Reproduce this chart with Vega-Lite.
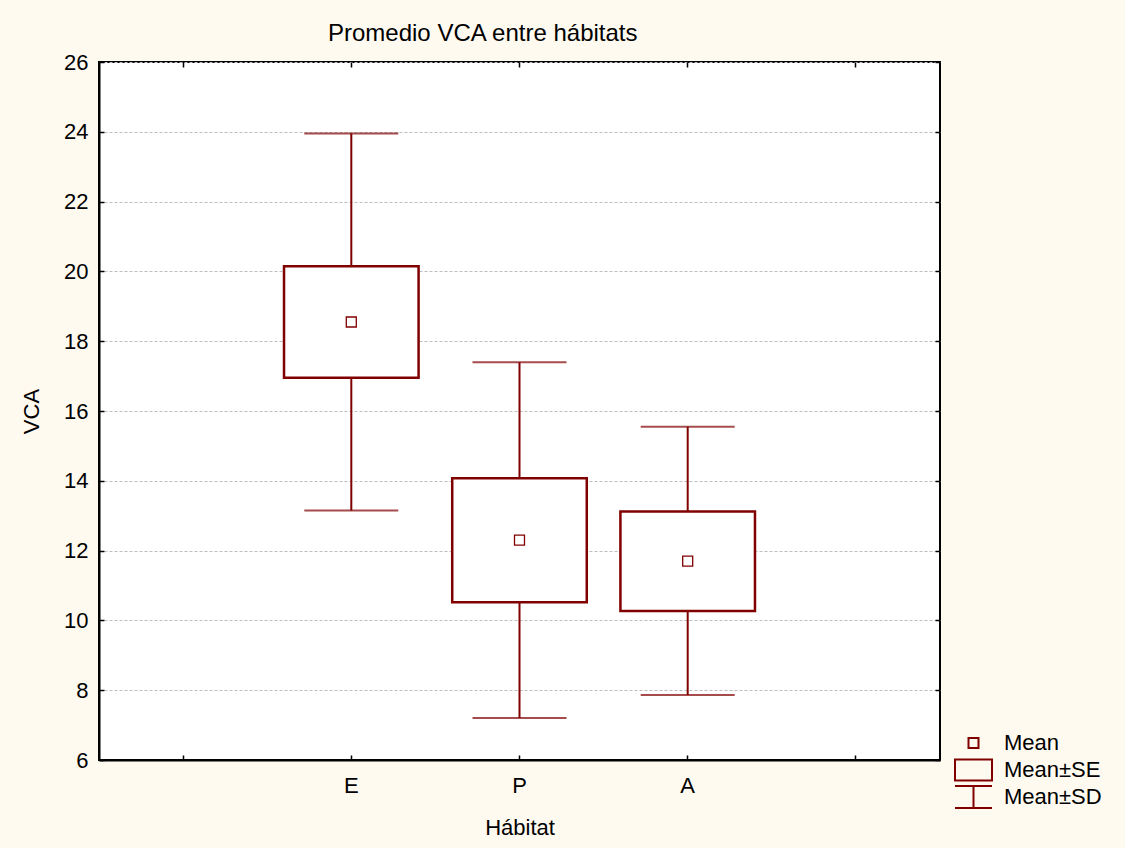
{
  "$schema": "https://vega.github.io/schema/vega-lite/v6.json",
  "autosize": "none",
  "width": 841,
  "height": 698,
  "padding": {"left": 99, "top": 62, "right": 185, "bottom": 88},
  "background": "#FFFAF0",
  "config": {
    "font": "Liberation Sans",
    "view": {"fill": "white", "stroke": "black", "strokeWidth": 2},
    "axis": {"labelFont": "Liberation Sans", "titleFont": "Liberation Sans", "labelColor": "black", "titleColor": "black", "domainColor": "black", "tickColor": "black", "domainWidth": 2, "tickWidth": 1.5}
  },
  "title": {"text": "Promedio VCA entre hábitats", "anchor": "start", "frame": "group", "dx": 229, "offset": 5, "fontSize": 24, "fontWeight": "normal", "font": "Liberation Sans", "color": "black"},
  "data": {"values": [
    {"hab": "E", "kind": "Mean", "mean": 18.55, "se_lo": 16.95, "se_hi": 20.15, "sd_lo": 13.15, "sd_hi": 23.95},
    {"hab": "P", "kind": "Mean", "mean": 12.3, "se_lo": 10.52, "se_hi": 14.07, "sd_lo": 7.2, "sd_hi": 17.4},
    {"hab": "A", "kind": "Mean", "mean": 11.7, "se_lo": 10.27, "se_hi": 13.12, "sd_lo": 7.86, "sd_hi": 15.55}
  ]},
  "layer": [
    {
      "encoding": {
        "x": {"field": "hab", "type": "nominal", "scale": {"type": "band", "domain": ["_a", "E", "P", "A", "_b"], "paddingInner": 0, "paddingOuter": 0}}
      },
      "layer": [
        {
          "mark": {"type": "rule", "color": "#800000", "strokeWidth": 2},
          "encoding": {
            "x": {"field": "hab", "type": "nominal", "axis": {"orient": "bottom", "title": "Hábitat", "labelExpr": "datum.value == '_a' || datum.value == '_b' ? '' : datum.value", "labelFontSize": 22, "titleFontSize": 22, "titleFontWeight": "normal", "labelAngle": 0, "tickSize": -5, "labelPadding": 20, "titlePadding": 21, "grid": false, "tickBand": "center"}},
            "y": {"field": "sd_lo", "type": "quantitative", "scale": {"domain": [6, 26], "nice": false, "zero": false}, "axis": {"orient": "left", "title": "VCA", "values": [6, 8, 10, 12, 14, 16, 18, 20, 22, 24, 26], "labelFontSize": 22, "titleFontSize": 22, "titleFontWeight": "normal", "tickSize": -5, "labelPadding": 16, "titlePadding": 20, "grid": true, "gridColor": "#bdbdbd", "gridDash": [3, 2], "gridWidth": 1}},
            "y2": {"field": "sd_hi"}
          }
        },
        {
          "mark": {"type": "tick", "color": "#800000", "thickness": 2, "size": 94, "orient": "horizontal"},
          "encoding": {"y": {"field": "sd_hi", "type": "quantitative"}}
        },
        {
          "mark": {"type": "tick", "color": "#800000", "thickness": 2, "size": 94, "orient": "horizontal"},
          "encoding": {"y": {"field": "sd_lo", "type": "quantitative"}}
        },
        {
          "mark": {"type": "bar", "fill": "white", "stroke": "#800000", "strokeWidth": 2.5, "width": {"band": 0.8}},
          "encoding": {"y": {"field": "se_lo", "type": "quantitative"}, "y2": {"field": "se_hi"}}
        },
        {
          "mark": {"type": "point", "filled": false, "color": "#800000", "strokeWidth": 1.3, "size": 1369, "opacity": 1},
          "encoding": {
            "y": {"field": "mean", "type": "quantitative"},
            "shape": {"field": "kind", "type": "nominal", "scale": {"domain": ["Mean", "Mean±SE", "Mean±SD"], "range": ["M-0.27,-0.27H0.27V0.27H-0.27Z", "M-1,-0.57H1V0.57H-1Z", "M-1,-0.6H1M0,-0.6V0.6M-1,0.6H1"]},
              "legend": {"title": null, "orient": "none", "legendX": 855, "legendY": 669, "labelFontSize": 22, "labelFont": "Liberation Sans", "labelColor": "black", "symbolSize": 1369, "symbolStrokeColor": "#800000", "symbolStrokeWidth": 2, "symbolFillColor": "transparent", "labelOffset": 11, "clipHeight": 24, "rowPadding": 3, "padding": 0}}
          }
        }
      ]
    },
    {
      "mark": {"type": "point", "opacity": 0},
      "encoding": {
        "x": {"field": "hab", "type": "nominal", "scale": {"type": "band", "domain": ["_a", "E", "P", "A", "_b"], "paddingInner": 0, "paddingOuter": 0}, "axis": {"orient": "top", "title": null, "labels": false, "tickSize": -5, "domain": false, "grid": false, "tickBand": "center"}},
        "y": {"field": "mean", "type": "quantitative", "scale": {"domain": [6, 26], "nice": false, "zero": false}, "axis": {"orient": "right", "title": null, "labels": false, "tickSize": -5, "domain": false, "grid": false, "values": [6, 8, 10, 12, 14, 16, 18, 20, 22, 24, 26]}}
      }
    }
  ],
  "resolve": {"scale": {"x": "independent", "y": "independent"}}
}
